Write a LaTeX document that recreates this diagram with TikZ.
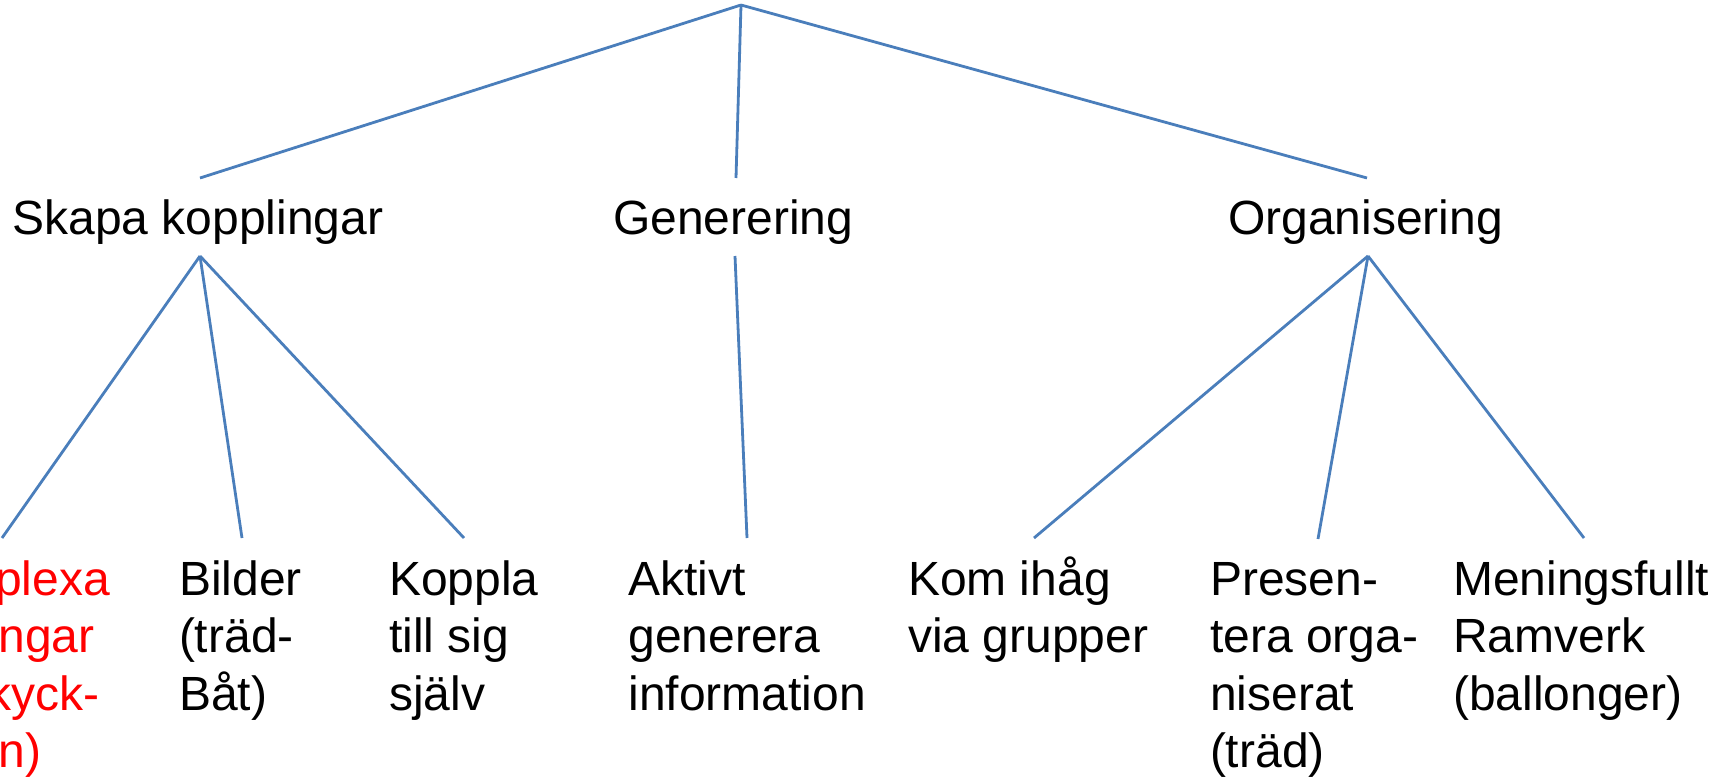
\documentclass[tikz,border=0pt]{standalone}
\usepackage{fontspec}
\setmainfont{Liberation Sans}
\definecolor{linkblue}{HTML}{4A7EBB}
\definecolor{hotred}{HTML}{FF0000}
\begin{document}
\begin{tikzpicture}[x=1pt,y=-1pt,
  label/.style={anchor=base west,inner sep=0pt,outer sep=0pt,align=left,
    font=\fontsize{48}{57.5}\selectfont},
  link/.style={draw=linkblue,line width=2.8pt}]
\useasboundingbox (0,0) rectangle (1729,778);
\clip (0,0) rectangle (1729,778);

% text of the three branches
\node[label] (skapa) at (12.5,234) {Skapa kopplingar};
\node[label] (gen)   at (613,234) {Generering};
\node[label] (org)   at (1228,234) {Organisering};

% leaves (a node's base is the baseline of its last line; first lines sit at 595)
\node[label,text=hotred] (komplexa) at (-1.5,767.5)
  {\hspace*{-3.5pt}plexa\\ngar\\\hspace*{-11pt}kyck-\\n)};
\node[label] (bilder)  at (179,710)   {Bilder\\(träd-\\Båt)};
\node[label] (koppla)  at (389,710)   {Koppla\\till sig\\själv};
\node[label] (aktivt)  at (628.5,710) {Aktivt\\generera\\information};
\node[label] (komihag) at (908,652.5) {Kom ihåg\\via grupper};
\node[label] (presen)  at (1210,767.5) {Presen-\\tera orga-\\niserat\\(träd)};
\node[label] (menings) at (1453,710)  {Meningsfullt\\Ramverk\\(ballonger)};

% connector ends
\coordinate (root) at (741,5);
\coordinate (skapa-in)  at (200,178);
\coordinate (gen-in)    at (736,178);
\coordinate (org-in)    at (1367,178);
\coordinate (skapa-out) at (200,256);
\coordinate (gen-out)   at (735,256);
\coordinate (org-out)   at (1368,256);
\coordinate (komplexa-in) at (2,538);
\coordinate (bilder-in)   at (242,538);
\coordinate (koppla-in)   at (464,538);
\coordinate (aktivt-in)   at (747,538);
\coordinate (komihag-in)  at (1034,538);
\coordinate (presen-in)   at (1318,539);
\coordinate (menings-in)  at (1584,538);

% tree connectors
\draw[link] (root) -- (skapa-in);
\draw[link] (root) -- (gen-in);
\draw[link] (root) -- (org-in);
\draw[link] (skapa-out) -- (komplexa-in);
\draw[link] (skapa-out) -- (bilder-in);
\draw[link] (skapa-out) -- (koppla-in);
\draw[link] (gen-out) -- (aktivt-in);
\draw[link] (org-out) -- (komihag-in);
\draw[link] (org-out) -- (presen-in);
\draw[link] (org-out) -- (menings-in);
\end{tikzpicture}
\end{document}
